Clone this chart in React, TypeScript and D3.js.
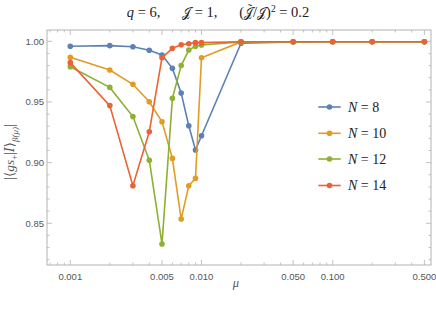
import React, { useEffect, useRef } from 'react';
import * as d3 from 'd3';

// mu values shared by all series
const muValues = [0.001, 0.002, 0.003, 0.004, 0.005, 0.006, 0.007, 0.008, 0.009, 0.01, 0.02, 0.05, 0.1, 0.2, 0.5];

const n8 = [0.9959, 0.9964, 0.9955, 0.9926, 0.9887, 0.9777, 0.9574, 0.9304, 0.9104, 0.9222, 0.9984, 0.9994, 0.9996, 0.9996, 0.9996];
const n10 = [0.9868, 0.9763, 0.9646, 0.9502, 0.9337, 0.9035, 0.8535, 0.881, 0.887, 0.9865, 0.9995, 0.9996, 0.9996, 0.9996, 0.9996];
const n12 = [0.979, 0.962, 0.938, 0.902, 0.833, 0.953, 0.98, 0.9928, 0.996, 0.997, 0.9995, 0.9996, 0.9996, 0.9996, 0.9996];
const n14 = [0.9824, 0.947, 0.881, 0.9255, 0.9865, 0.9942, 0.9972, 0.998, 0.9989, 0.9989, 0.9996, 0.9996, 0.9996, 0.9996, 0.9996];

const seriesNames = ['N = 8', 'N = 10', 'N = 12', 'N = 14'];
const seriesColors = ['#5e81b5', '#e19c24', '#8fb032', '#eb6235'];

const xMajorTicks = [0.001, 0.005, 0.01, 0.05, 0.1, 0.5];
const xTickLabels = ['0.001', '0.005', '0.010', '0.050', '0.100', '0.500'];
const yMajorTicks = [0.85, 0.9, 0.95, 1.0];

const W = 436, H = 310;
const SERIF = 'Liberation Serif, DejaVu Serif, serif';

interface Piece { t: string; italic?: boolean; size?: number; dy?: number; dx?: number; font?: string; overlay?: boolean; }

// lay out a run of text pieces one after another, measured in the DOM
function textRun(parent: any, pieces: Piece[], baseSize: number, color: string) {
  const g = parent.append('g');
  let pos = 0;
  let lastStart = 0, lastW = 0;
  pieces.forEach(p => {
    const el = g.append('text')
      .attr('y', p.dy || 0)
      .attr('font-family', p.font || SERIF)
      .attr('font-size', p.size || baseSize)
      .attr('font-style', p.italic ? 'italic' : 'normal')
      .attr('fill', color)
      .attr('xml:space', 'preserve')
      .text(p.t);
    const w = (el.node() as SVGTextElement).getComputedTextLength();
    if (p.overlay) {
      // centred over the previous piece
      el.attr('x', lastStart + lastW / 2 - w / 2 + (p.dx || 0));
    } else {
      pos += p.dx || 0;
      el.attr('x', pos);
      lastStart = pos; lastW = w;
      pos += w;
    }
  });
  return { g, width: pos };
}

const App: React.FC = () => {
  const ref = useRef<SVGSVGElement>(null);

  useEffect(() => {
    if (!ref.current) return;
    const svg = d3.select(ref.current);
    svg.selectAll('*').remove();

    const frame = { left: 47, right: 431, top: 30, bottom: 265 };
    const x = d3.scaleLog().domain([0.001, 0.5]).range([70.3, 424.4]);
    const y = d3.scaleLinear().domain([0.85, 1.0]).range([223.3, 41.3]);

    const frameColor = '#b3b3b3';
    const labelColor = '#555';

    svg.append('rect')
      .attr('x', frame.left).attr('y', frame.top)
      .attr('width', frame.right - frame.left).attr('height', frame.bottom - frame.top)
      .attr('fill', 'white').attr('stroke', frameColor).attr('stroke-width', 1);

    // x ticks (log minor)
    const xMinor: number[] = [];
    for (let d = 0.0001; d < 1; d *= 10) {
      for (let k = 1; k < 10; k++) {
        const v = d * k;
        const px = x(v);
        if (px > frame.left && px < frame.right) xMinor.push(v);
      }
    }
    const ticks = svg.append('g').attr('stroke', frameColor).attr('stroke-width', 0.8);
    xMinor.forEach(v => {
      const major = xMajorTicks.some(m => Math.abs(m - v) / v < 1e-6);
      const len = major ? 5 : 2.5;
      const px = x(v);
      ticks.append('line').attr('x1', px).attr('x2', px).attr('y1', frame.bottom).attr('y2', frame.bottom - len);
      ticks.append('line').attr('x1', px).attr('x2', px).attr('y1', frame.top).attr('y2', frame.top + len);
    });

    // y ticks every 0.01
    d3.range(0.81, 1.011, 0.01).forEach(v => {
      const py = y(v);
      if (py < frame.top || py > frame.bottom) return;
      const major = Math.abs(Math.round(v * 20) - v * 20) < 1e-6;
      const len = major ? 5 : 2.5;
      ticks.append('line').attr('x1', frame.left).attr('x2', frame.left + len).attr('y1', py).attr('y2', py);
      ticks.append('line').attr('x1', frame.right).attr('x2', frame.right - len).attr('y1', py).attr('y2', py);
    });

    svg.append('g').selectAll('text').data(xMajorTicks).enter().append('text')
      .attr('x', d => x(d)).attr('y', 280)
      .attr('text-anchor', 'middle')
      .attr('font-family', 'Liberation Sans, Arial, sans-serif').attr('font-size', 9.5)
      .attr('fill', labelColor)
      .text((d, i) => xTickLabels[i]);

    svg.append('g').selectAll('text').data(yMajorTicks).enter().append('text')
      .attr('x', 44).attr('y', d => y(d) + 3.4)
      .attr('text-anchor', 'end')
      .attr('font-family', 'Liberation Sans, Arial, sans-serif').attr('font-size', 9.5)
      .attr('fill', labelColor)
      .text(d => d.toFixed(2));

    // series
    const all = [n8, n10, n12, n14];
    const line = d3.line<number>().x((d, i) => x(muValues[i])).y(d => y(d));
    all.forEach((vals, si) => {
      const g = svg.append('g');
      g.append('path').attr('d', line(vals))
        .attr('fill', 'none').attr('stroke', seriesColors[si]).attr('stroke-width', 1.6);
      g.selectAll('circle').data(vals).enter().append('circle')
        .attr('cx', (d, i) => x(muValues[i])).attr('cy', d => y(d))
        .attr('r', 2.8).attr('fill', seriesColors[si]);
    });

    // legend
    const legendY = [107, 133.3, 159, 185.5];
    seriesNames.forEach((name, i) => {
      const g = svg.append('g');
      g.append('line').attr('x1', 318.3).attr('x2', 340.7).attr('y1', legendY[i]).attr('y2', legendY[i])
        .attr('stroke', seriesColors[i]).attr('stroke-width', 1.6);
      g.append('circle').attr('cx', 329.5).attr('cy', legendY[i]).attr('r', 2.8).attr('fill', seriesColors[i]);
      const parts = name.split(' = ');
      const run = textRun(g, [{ t: parts[0], italic: true }, { t: ' = ' + parts[1] }], 14, '#222');
      run.g.attr('transform', `translate(348,${legendY[i] + 4.8})`);
    });

    // x label
    svg.append('text').attr('x', 236).attr('y', 287)
      .attr('text-anchor', 'middle').attr('font-family', SERIF)
      .attr('font-style', 'italic').attr('font-size', 12.5).attr('fill', labelColor)
      .text('μ');

    // y label
    const yl = textRun(svg, [
      { t: '|', size: 14 },
      { t: '⟨', font: 'DejaVu Serif, serif', size: 13 },
      { t: 'gs', italic: true },
      { t: '+', size: 9, dy: 3 },
      { t: '|', size: 14 },
      { t: 'I', italic: true, font: 'DejaVu Serif, serif', size: 12 },
      { t: '⟩', font: 'DejaVu Serif, serif', size: 13 },
      { t: 'β(μ)', italic: true, size: 9, dy: 4 },
      { t: '|', size: 14 },
    ], 13.5, labelColor);
    yl.g.attr('transform', `translate(14,${152 + yl.width / 2}) rotate(-90)`);

    // title
    const title = textRun(svg, [
      { t: 'q', italic: true },
      { t: ' = 6,      ' },
      { t: '𝒥', font: 'DejaVu Sans, serif', size: 13 },
      { t: ' = 1,      (' },
      { t: '𝒥', font: 'DejaVu Sans, serif', size: 13 },
      { t: '˜', overlay: true, dx: 1.5, dy: -4, size: 12 },
      { t: '/' },
      { t: '𝒥', font: 'DejaVu Sans, serif', size: 13 },
      { t: ')' },
      { t: '2', size: 9.5, dy: -5.5 },
      { t: ' = 0.2' },
    ], 14.5, '#222');
    title.g.attr('transform', `translate(${218 - title.width / 2},17)`);
  }, []);

  return <svg ref={ref} width={W} height={H} style={{ display: 'block', position: 'absolute', left: 0, top: 0 }} />;
};

export default App;
